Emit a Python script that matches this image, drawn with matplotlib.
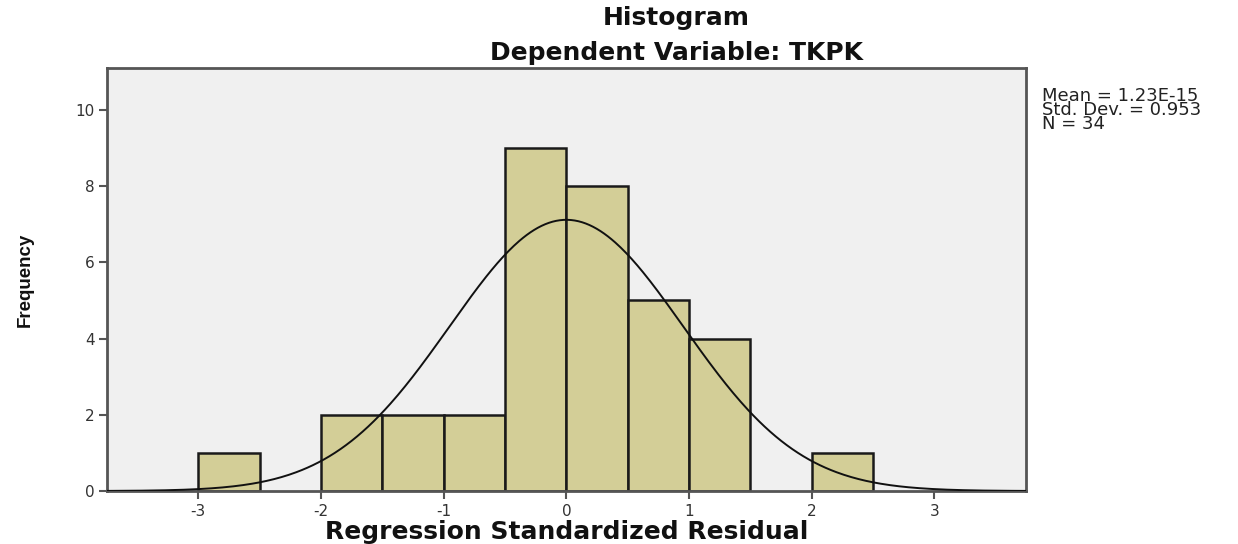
import numpy as np
import matplotlib
matplotlib.use("Agg")
import matplotlib.pyplot as plt

# Data
bin_edges = [-3.0, -2.5, -2.0, -1.5, -1.0, -0.5, 0.0, 0.5, 1.0, 1.5, 2.0, 2.5]
counts = [1, 0, 2, 2, 2, 9, 8, 5, 4, 0, 1]
mean_val = 1.23e-15
std_val = 0.953
n_val = 34
x_ticks = [-3, -2, -1, 0, 1, 2, 3]
y_ticks = [0, 2, 4, 6, 8, 10]
stats_lines = ["Mean = 1.23E-15", "Std. Dev. = 0.953", "N = 34"]

plt.rcParams['font.family'] = ['DejaVu Sans']

fig = plt.figure(figsize=(12.38, 5.44), dpi=100)
ax = fig.add_axes([0.0864, 0.0974, 0.7424, 0.7776])
ax.set_facecolor('#F0F0F0')

lefts = bin_edges[:-1]
widths = np.diff(bin_edges)
for l, w, c in zip(lefts, widths, counts):
    if c > 0:
        ax.bar(l, c, width=w, align='edge', color='#D3CE97',
               edgecolor='#1a1a1a', linewidth=1.8, zorder=2)

xs = np.linspace(-3.75, 3.75, 500)
bw = 0.5
ys = n_val * bw / (std_val * np.sqrt(2 * np.pi)) * np.exp(-0.5 * ((xs - mean_val) / std_val) ** 2)
ax.plot(xs, ys, color='#111111', linewidth=1.4, zorder=3)

ax.set_xlim(-3.745, 3.747)
ax.set_ylim(0, 11.1)
ax.set_xticks(x_ticks)
ax.set_yticks(y_ticks)
ax.set_xticklabels([str(t) for t in x_ticks])
ax.tick_params(axis='both', direction='out', length=6, width=1.5, color='#555555',
               labelsize=11, labelcolor='#333333', pad=3)

for s in ax.spines.values():
    s.set_color('#555555')
    s.set_linewidth(2)

fig.text(567 / 1238, 1 - 532 / 544, 'Regression Standardized Residual', fontsize=18,
         fontweight='bold', ha='center', va='center', color='#111111')
fig.text(25 / 1238, 1 - 280 / 544, 'Frequency', rotation=90, fontsize=13.5,
         fontweight='heavy', ha='center', va='center', family='Liberation Sans',
         color='#111111')

fig.text(676 / 1238, 1 - 18 / 544, 'Histogram', fontsize=18, fontweight='bold',
         ha='center', va='center', color='#111111')
fig.text(676 / 1238, 1 - 53 / 544, 'Dependent Variable: TKPK', fontsize=18,
         fontweight='bold', ha='center', va='center', color='#111111')

fig.text(1042 / 1238, 1 - 110 / 544, '\n'.join(stats_lines), fontsize=13, ha='left',
         va='center', color='#222222', linespacing=0.72)

fig.savefig('out.png', dpi=100)
